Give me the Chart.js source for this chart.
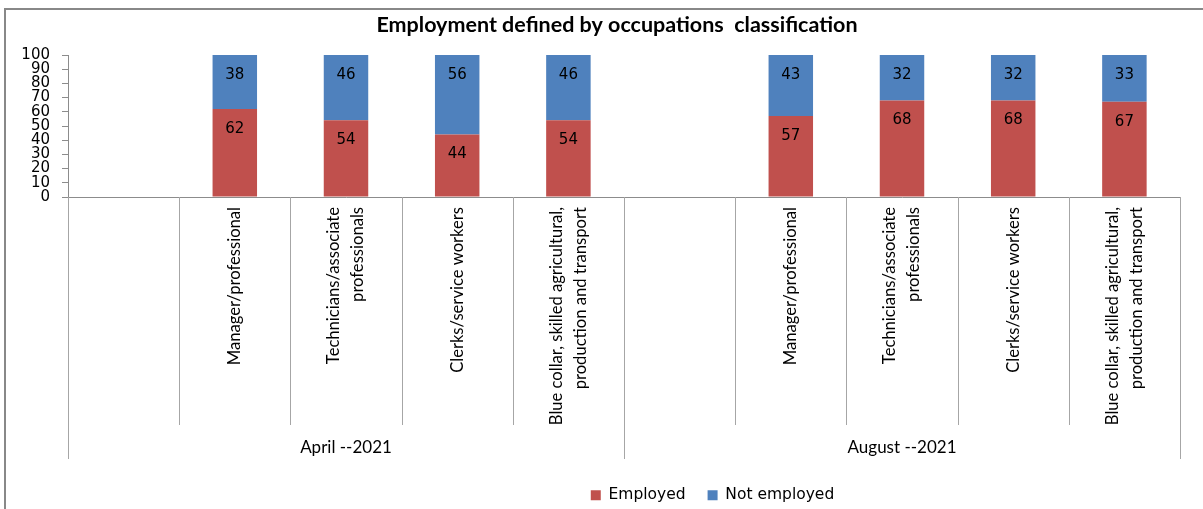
<!DOCTYPE html>
<html><head><meta charset="utf-8">
<script src="https://cdn.jsdelivr.net/npm/chart.js@4/dist/chart.umd.min.js"></script>
<style>html,body{margin:0;padding:0;background:#fff;overflow:hidden}</style>
</head><body>
<canvas id="c" width="1203" height="509"></canvas>
<script>
const chartTitle = 'Employment defined by occupations  classification';
const categories = [
  [''],
  ['Manager/professional'],
  ['Technicians/associate', 'professionals'],
  ['Clerks/service workers'],
  ['Blue collar, skilled agricultural,', 'production and transport'],
  [''],
  ['Manager/professional'],
  ['Technicians/associate', 'professionals'],
  ['Clerks/service workers'],
  ['Blue collar, skilled agricultural,', 'production and transport']
];
const groups = ['April --2021', 'August --2021'];
const groupSize = 5;
const employed    = [null, 62, 54, 44, 54, null, 57, 68, 68, 67];
const notEmployed = [null, 38, 46, 56, 46, null, 43, 32, 32, 33];
const yTickValues = [0, 10, 20, 30, 40, 50, 60, 70, 80, 90, 100];

const AXIS = '#8c8c8c';
const DIV = '#a6a6a6';

const frame = {
  id: 'frame',
  beforeDraw(chart) {
    const ctx = chart.ctx;
    ctx.save();
    ctx.strokeStyle = '#888888';
    ctx.lineWidth = 2;
    ctx.strokeRect(5, 9, 1400, 800);
    ctx.restore();
  }
};

const placeBoxes = {
  id: 'placeBoxes',
  afterLayout(chart) {
    const t = chart.titleBlock;
    if (t) { const dx = 617 - (t.left + t.right) / 2; t.left += dx; t.right += dx; }
    const l = chart.legend;
    if (l) {
      const dx = 714.5 - 2 - (l.left + l.right) / 2; l.left += dx; l.right += dx;
      l.top += 4; l.bottom += 4;
    }
  }
};

const axisDecor = {
  id: 'axisDecor',
  afterDraw(chart) {
    const ctx = chart.ctx, x = chart.scales.x, area = chart.chartArea;
    const n = chart.data.labels.length;
    const step = x.getPixelForTick(1) - x.getPixelForTick(0);
    ctx.save();
    ctx.strokeStyle = DIV; ctx.lineWidth = 1;
    for (let i = 0; i <= n; i++) {
      const px = x.getPixelForTick(Math.min(i, n - 1)) + (i < n ? -step / 2 : step / 2);
      const isGroup = i % groupSize === 0;
      const y2 = area.bottom + (isGroup ? 262 : 228);
      const xx = Math.round(px) + 0.5;
      ctx.beginPath(); ctx.moveTo(xx, area.bottom); ctx.lineTo(xx, y2); ctx.stroke();
    }
    ctx.fillStyle = '#000';
    ctx.font = '16.6px Lato';
    ctx.textAlign = 'right'; ctx.textBaseline = 'middle';
    chart.data.labels.forEach((lab, i) => {
      const lines = Array.isArray(lab) ? lab : [lab];
      const cx = x.getPixelForTick(i);
      lines.forEach((t, j) => {
        const off = (j - (lines.length - 1) / 2) * 24;
        ctx.save();
        ctx.translate(cx + off, area.bottom + 10);
        ctx.rotate(-Math.PI / 2);
        ctx.fillText(t, 0, 0);
        ctx.restore();
      });
    });
    ctx.textAlign = 'center';
    ctx.font = '17px Lato';
    groups.forEach((g, k) => {
      const a = x.getPixelForTick(k * groupSize) - step / 2;
      const b = x.getPixelForTick(k * groupSize + groupSize - 1) + step / 2;
      ctx.fillText(g, (a + b) / 2, area.bottom + 251);
    });
    ctx.restore();
  }
};

const valueLabels = {
  id: 'valueLabels',
  afterDatasetsDraw(chart) {
    const ctx = chart.ctx;
    ctx.save();
    ctx.font = '15px "DejaVu Sans"';
    ctx.fillStyle = '#000';
    ctx.textAlign = 'center'; ctx.textBaseline = 'middle';
    chart.data.datasets.forEach((ds, di) => {
      chart.getDatasetMeta(di).data.forEach((bar, i) => {
        const v = ds.data[i];
        if (v == null) return;
        ctx.fillText(String(v), bar.x, bar.y + 20);
      });
    });
    ctx.restore();
  }
};

new Chart(document.getElementById('c'), {
  type: 'bar',
  data: {
    labels: categories,
    datasets: [
      { label: 'Employed', data: employed, backgroundColor: '#C0504D', borderWidth: 0 },
      { label: 'Not employed', data: notEmployed, backgroundColor: '#4F81BD', borderWidth: 0 }
    ]
  },
  options: {
    responsive: false,
    animation: false,
    events: [],
    layout: { padding: { left: 0, right: 23, top: 0, bottom: 0 } },
    datasets: { bar: { barPercentage: 0.4, categoryPercentage: 1 } },
    plugins: {
      title: {
        display: true, text: chartTitle, color: '#000',
        font: { family: 'Lato', size: 21.5, weight: 'bold' },
        padding: { top: 12.1, bottom: 17.1 }
      },
      legend: {
        position: 'bottom',
        labels: {
          boxWidth: 10, boxHeight: 10, padding: 22, color: '#000',
          font: { family: 'DejaVu Sans', size: 15.5 }
        }
      },
      tooltip: { enabled: false }
    },
    scales: {
      x: {
        stacked: true,
        grid: { display: false },
        border: { display: true, color: AXIS, width: 1 },
        ticks: { display: false },
        afterFit(s) {
          const lh = (s.chart.legend && s.chart.legend.height) || 35.5;
          s.height = s.chart.height - lh - 197;
        }
      },
      y: {
        stacked: true,
        min: 0, max: 100,
        afterBuildTicks(s) { s.ticks = yTickValues.map(v => ({ value: v })); },
        grid: { drawOnChartArea: false, drawTicks: true, tickLength: 6, color: AXIS },
        border: { display: true, color: AXIS, width: 1 },
        ticks: {
          autoSkip: false, padding: 12, color: '#000',
          font: { family: 'DejaVu Sans', size: 15 }
        },
        afterFit(s) { s.width = 68; }
      }
    }
  },
  plugins: [frame, placeBoxes, axisDecor, valueLabels]
});
</script>
</body></html>
